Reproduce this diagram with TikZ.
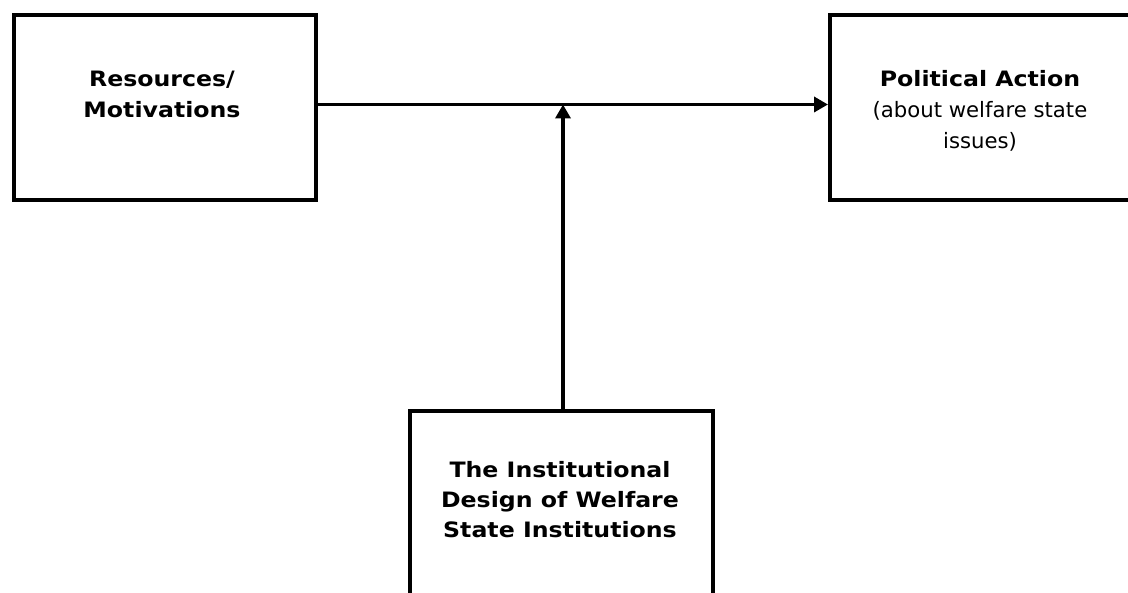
\documentclass[tikz,border=0pt]{standalone}
\usepackage{fontspec}
\setmainfont{DejaVu Sans}[BoldFeatures={FakeStretch=1.115}]
\usetikzlibrary{arrows.meta}
\tikzset{
  box/.style={draw=black, line width=3.6pt, rectangle, inner sep=0pt},
  lbl/.style={align=center, inner sep=0pt, font=\fontsize{21.2}{31}\selectfont, anchor=base},
  conn/.style={line width=3.6pt, -{Triangle[length=14pt,width=15pt]}}
}
\begin{document}
\begin{tikzpicture}[x=1pt,y=-1pt]
\clip (0,0) rectangle (1128,593);
\fill[white] (0,0) rectangle (1128,593);
\node[box, minimum width=302pt, minimum height=185pt, anchor=north west] (res) at (12,13) {};
\node[box, minimum width=305pt, minimum height=185pt, anchor=north west] (pol) at (828,13) {};
\node[box, minimum width=303pt, minimum height=300pt, anchor=north west] (inst) at (408,409) {};
\node[lbl, font=\fontsize{21.2}{31}\selectfont\bfseries] (resl) at (162,118) {Resources/\\Motivations};
\node[lbl] (poll) at (980,149) {\textbf{Political Action}\\(about welfare state\\issues)};
\node[lbl, font=\fontsize{21.2}{30}\selectfont\bfseries] (instl) at (560,537) {The Institutional\\Design of Welfare\\State Institutions};
\coordinate (mid) at (563,104.5);
\draw[conn] (res.east |- mid) -- (pol.west |- mid);
\draw[conn] (inst.north -| mid) -- (mid);
\end{tikzpicture}
\end{document}
